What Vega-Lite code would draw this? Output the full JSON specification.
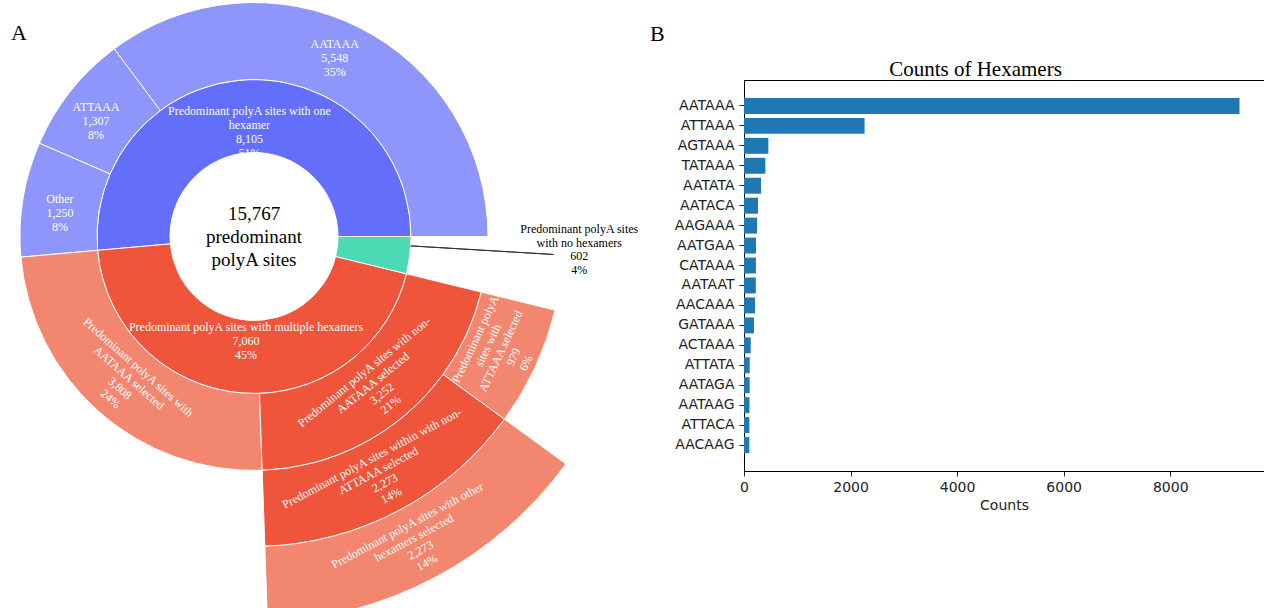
{
  "$schema": "https://vega.github.io/schema/vega-lite/v6.json",
  "padding": 0,
  "background": "white",
  "spacing": 10,
  "config": {"view": {"stroke": null}},
  "datasets": {
    "rings": [
      {"name": "root", "level": 0, "start": 0, "end": 15767, "key": "root", "label": "15,767\npredominant\npolyA sites"},
      {"name": "one hexamer", "level": 1, "start": 0, "end": 8105, "key": "one", "label": "Predominant polyA sites with one\nhexamer\n8,105\n51%"},
      {"name": "multiple hexamers", "level": 1, "start": 8105, "end": 15165, "key": "multi", "label": "Predominant polyA sites with multiple hexamers\n7,060\n45%"},
      {"name": "no hexamers", "level": 1, "start": 15165, "end": 15767, "key": "none", "label": "Predominant polyA sites\nwith no hexamers\n602\n4%"},
      {"name": "AATAAA", "level": 2, "start": 0, "end": 5548, "key": "one-sub", "label": "AATAAA\n5,548\n35%"},
      {"name": "ATTAAA", "level": 2, "start": 5548, "end": 6855, "key": "one-sub", "label": "ATTAAA\n1,307\n8%"},
      {"name": "Other", "level": 2, "start": 6855, "end": 8105, "key": "one-sub", "label": "Other\n1,250\n8%"},
      {"name": "AATAAA selected", "level": 2, "start": 8105, "end": 11913, "key": "selected", "label": "Predominant polyA sites with\nAATAAA selected\n3,808\n24%"},
      {"name": "non-AATAAA selected", "level": 2, "start": 11913, "end": 15165, "key": "not selected", "label": "Predominant polyA sites with non-\nAATAAA selected\n3,252\n21%"},
      {"name": "non-ATTAAA selected", "level": 3, "start": 11913, "end": 14186, "key": "not selected", "label": "Predominant polyA sites within with non-\nATTAAA selected\n2,273\n14%"},
      {"name": "ATTAAA selected", "level": 3, "start": 14186, "end": 15165, "key": "selected", "label": "Predominant polyA\nsites with\nATTAAA selected\n979\n6%"},
      {"name": "other hexamers selected", "level": 4, "start": 11913, "end": 14186, "key": "selected", "label": "Predominant polyA sites with other\nhexamers selected\n2,273\n14%"}
    ],
    "hexamers": [
      {"hexamer": "AATAAA", "count": 9300},
      {"hexamer": "ATTAAA", "count": 2263},
      {"hexamer": "AGTAAA", "count": 457},
      {"hexamer": "TATAAA", "count": 401},
      {"hexamer": "AATATA", "count": 319},
      {"hexamer": "AATACA", "count": 263},
      {"hexamer": "AAGAAA", "count": 244},
      {"hexamer": "AATGAA", "count": 225},
      {"hexamer": "CATAAA", "count": 224},
      {"hexamer": "AATAAT", "count": 222},
      {"hexamer": "AACAAA", "count": 206},
      {"hexamer": "GATAAA", "count": 188},
      {"hexamer": "ACTAAA", "count": 126},
      {"hexamer": "ATTATA", "count": 107},
      {"hexamer": "AATAGA", "count": 106},
      {"hexamer": "AATAAG", "count": 103},
      {"hexamer": "ATTACA", "count": 101},
      {"hexamer": "AACAAG", "count": 100}
    ]
  },
  "hconcat": [
    {
      "title": {"text": "A", "anchor": "start", "frame": "group", "dx": 11, "offset": -61, "fontSize": 22, "font": "Liberation Serif", "fontWeight": "normal", "baseline": "alphabetic", "color": "black"},
      "width": 508,
      "height": 313,
      "view": {"stroke": null},
      "data": {"name": "rings"},
      "transform": [
        {"calculate": "(datum.start + datum.end) / 2", "as": "mid"},
        {"calculate": "datum.level - 1", "as": "inner"},
        {"calculate": "datum.level - 0.5", "as": "lab_r"},
        {"calculate": "datum.level + 2", "as": "leader_r"},
        {"calculate": "length(split(datum.label, '\\n'))", "as": "nlines"}
      ],
      "layer": [
        {
          "transform": [{"filter": "datum.level >= 1"}],
          "mark": {"type": "arc", "stroke": "white", "strokeWidth": 1},
          "encoding": {
            "theta": {"field": "start", "type": "quantitative", "stack": null, "scale": {"type": "linear", "domain": [0, 15767], "range": [7.853982, 1.570796], "nice": false, "zero": false}},
            "theta2": {"field": "end"},
            "radius": {"field": "level", "type": "quantitative", "scale": {"type": "linear", "domain": [0, 1, 2, 3, 4], "range": [84, 157, 234, 310, 386], "nice": false, "zero": false}},
            "radius2": {"field": "inner"},
            "color": {"field": "key", "type": "nominal", "legend": null, "scale": {"domain": ["one", "one-sub", "none", "multi", "selected", "not selected"], "range": ["#636efa", "#8f96fb", "#4bdab4", "#ef553b", "#f2866f", "#ef553b"]}}
          }
        },
        {
          "transform": [{"filter": "datum.key === 'none'"}],
          "mark": {"type": "arc", "stroke": "#333333", "strokeWidth": 1, "fill": "transparent", "thetaOffset": -0.06, "theta2Offset": -0.06, "radiusOffset": -10},
          "encoding": {
            "theta": {"field": "mid", "type": "quantitative", "stack": null, "scale": {"type": "linear", "domain": [0, 15767], "range": [7.853982, 1.570796], "nice": false, "zero": false}},
            "theta2": {"field": "mid"},
            "radius": {"field": "leader_r", "type": "quantitative", "scale": {"type": "linear", "domain": [0, 1, 2, 3, 4], "range": [84, 157, 234, 310, 386], "nice": false, "zero": false}},
            "radius2": {"field": "level"}
          }
        },
        {
          "transform": [{"filter": "datum.level >= 2 && datum.nlines === 3"}],
          "mark": {"type": "text", "font": "Liberation Serif", "fontSize": 12, "color": "white", "lineBreak": "\n", "lineHeight": 14, "align": "center", "baseline": "middle", "dy": -14, "thetaOffset": -0.04},
          "encoding": {
            "theta": {"field": "mid", "type": "quantitative", "stack": null, "scale": {"type": "linear", "domain": [0, 15767], "range": [7.853982, 1.570796], "nice": false, "zero": false}},
            "radius": {"field": "lab_r", "type": "quantitative", "scale": {"type": "linear", "domain": [0, 1, 2, 3, 4], "range": [84, 157, 234, 310, 386], "nice": false, "zero": false}},
            "text": {"field": "label"}
          }
        },
        {
          "transform": [{"filter": "datum.level >= 2 && datum.nlines === 4"}],
          "mark": {"type": "text", "font": "Liberation Serif", "fontSize": 12, "color": "white", "lineBreak": "\n", "lineHeight": 14, "align": "center", "baseline": "middle", "dy": -21},
          "encoding": {
            "theta": {"field": "mid", "type": "quantitative", "stack": null, "scale": {"type": "linear", "domain": [0, 15767], "range": [7.853982, 1.570796], "nice": false, "zero": false}},
            "radius": {"field": "lab_r", "type": "quantitative", "scale": {"type": "linear", "domain": [0, 1, 2, 3, 4], "range": [84, 157, 234, 310, 386], "nice": false, "zero": false}},
            "text": {"field": "label"},
            "angle": {"field": "mid", "type": "quantitative", "scale": {"type": "linear", "domain": [0, 7883, 7884, 15767], "range": [0, 0, 90, -90], "nice": false, "zero": false}}
          }
        },
        {
          "transform": [{"filter": "datum.level >= 2 && datum.nlines === 5"}],
          "mark": {"type": "text", "font": "Liberation Serif", "fontSize": 12, "color": "white", "lineBreak": "\n", "lineHeight": 14, "align": "center", "baseline": "middle", "dy": -28},
          "encoding": {
            "theta": {"field": "mid", "type": "quantitative", "stack": null, "scale": {"type": "linear", "domain": [0, 15767], "range": [7.853982, 1.570796], "nice": false, "zero": false}},
            "radius": {"field": "lab_r", "type": "quantitative", "scale": {"type": "linear", "domain": [0, 1, 2, 3, 4], "range": [84, 157, 234, 310, 386], "nice": false, "zero": false}},
            "text": {"field": "label"},
            "angle": {"field": "mid", "type": "quantitative", "scale": {"type": "linear", "domain": [0, 7883, 7884, 15767], "range": [0, 0, 90, -90], "nice": false, "zero": false}}
          }
        },
        {
          "transform": [{"filter": "datum.key === 'one'"}],
          "mark": {"type": "text", "font": "Liberation Serif", "fontSize": 12, "color": "white", "lineBreak": "\n", "lineHeight": 14, "align": "center", "baseline": "middle", "radiusOffset": -16, "dy": -21},
          "encoding": {
            "theta": {"field": "mid", "type": "quantitative", "stack": null, "scale": {"type": "linear", "domain": [0, 15767], "range": [7.853982, 1.570796], "nice": false, "zero": false}},
            "radius": {"field": "lab_r", "type": "quantitative", "scale": {"type": "linear", "domain": [0, 1, 2, 3, 4], "range": [84, 157, 234, 310, 386], "nice": false, "zero": false}},
            "text": {"field": "label"}
          }
        },
        {
          "transform": [{"filter": "datum.key === 'multi'"}],
          "mark": {"type": "text", "font": "Liberation Serif", "fontSize": 12, "color": "white", "lineBreak": "\n", "lineHeight": 14, "align": "center", "baseline": "middle", "radiusOffset": -16, "dy": -14},
          "encoding": {
            "theta": {"field": "mid", "type": "quantitative", "stack": null, "scale": {"type": "linear", "domain": [0, 15767], "range": [7.853982, 1.570796], "nice": false, "zero": false}},
            "radius": {"field": "lab_r", "type": "quantitative", "scale": {"type": "linear", "domain": [0, 1, 2, 3, 4], "range": [84, 157, 234, 310, 386], "nice": false, "zero": false}},
            "text": {"field": "label"}
          }
        },
        {
          "transform": [{"filter": "datum.key === 'none'"}],
          "mark": {"type": "text", "font": "Liberation Serif", "fontSize": 12, "color": "black", "lineBreak": "\n", "lineHeight": 13.5, "align": "center", "baseline": "middle", "thetaOffset": -0.08, "radiusOffset": 205, "dy": -20},
          "encoding": {
            "theta": {"field": "mid", "type": "quantitative", "stack": null, "scale": {"type": "linear", "domain": [0, 15767], "range": [7.853982, 1.570796], "nice": false, "zero": false}},
            "radius": {"field": "lab_r", "type": "quantitative", "scale": {"type": "linear", "domain": [0, 1, 2, 3, 4], "range": [84, 157, 234, 310, 386], "nice": false, "zero": false}},
            "text": {"field": "label"}
          }
        },
        {
          "transform": [{"filter": "datum.level === 0"}],
          "mark": {"type": "text", "font": "Liberation Serif", "fontSize": 19, "color": "black", "lineBreak": "\n", "lineHeight": 23, "align": "center", "baseline": "middle", "dy": -23},
          "encoding": {
            "text": {"field": "label"}
          }
        }
      ]
    },
    {
      "title": {"text": "B", "anchor": "start", "frame": "group", "dx": -94, "offset": -5, "fontSize": 22, "font": "Liberation Serif", "fontWeight": "normal", "baseline": "alphabetic", "color": "black"},
      "width": 520,
      "height": 391,
      "view": {"stroke": "black", "strokeWidth": 1},
      "data": {"name": "hexamers"},
      "layer": [
        {
          "mark": {"type": "bar", "color": "#1f77b4"},
          "encoding": {
            "y": {"field": "hexamer", "type": "nominal", "sort": null, "scale": {"paddingInner": 0.2, "paddingOuter": 0.9},
              "axis": {"title": null, "labelFont": "DejaVu Sans", "labelFontSize": 14, "labelColor": "#222222", "tickColor": "#222222", "tickSize": 5, "tickWidth": 1, "labelPadding": 5, "domainColor": "black", "grid": false}},
            "x": {"field": "count", "type": "quantitative", "scale": {"domain": [0, 9760], "nice": false},
              "axis": {"title": "Counts", "values": [0, 2000, 4000, 6000, 8000], "format": "d", "labelFont": "DejaVu Sans", "labelFontSize": 14, "labelColor": "#222222", "tickColor": "#222222", "tickSize": 5, "tickWidth": 1, "labelPadding": 4, "labelFlush": false, "domainColor": "black", "grid": false, "titleFont": "DejaVu Sans", "titleFontSize": 14, "titleFontWeight": "normal", "titleColor": "#222222", "titlePadding": 4}}
          }
        },
        {
          "mark": {"type": "bar", "opacity": 0},
          "encoding": {
            "y": {"field": "hexamer", "type": "nominal", "sort": null, "scale": {"paddingInner": 0.2, "paddingOuter": 0.9},
              "axis": {"title": null, "labelFont": "DejaVu Sans", "labelFontSize": 14, "labelColor": "#222222", "tickColor": "#222222", "tickSize": 5, "tickWidth": 1, "labelPadding": 5, "domainColor": "black", "grid": false}},
            "x": {"field": "count", "type": "quantitative", "scale": {"domain": [0, 9760], "nice": false},
              "axis": {"orient": "top", "title": "Counts of Hexamers", "labels": false, "ticks": false, "domain": false, "grid": false, "titleFont": "Liberation Serif", "titleFontSize": 21, "titleFontWeight": "normal", "titleColor": "black", "titleX": 231, "titleY": -5, "titleAlign": "center", "titleBaseline": "alphabetic", "titleAngle": 0}}
          }
        }
      ],
      "resolve": {"axis": {"x": "independent"}}
    }
  ]
}
